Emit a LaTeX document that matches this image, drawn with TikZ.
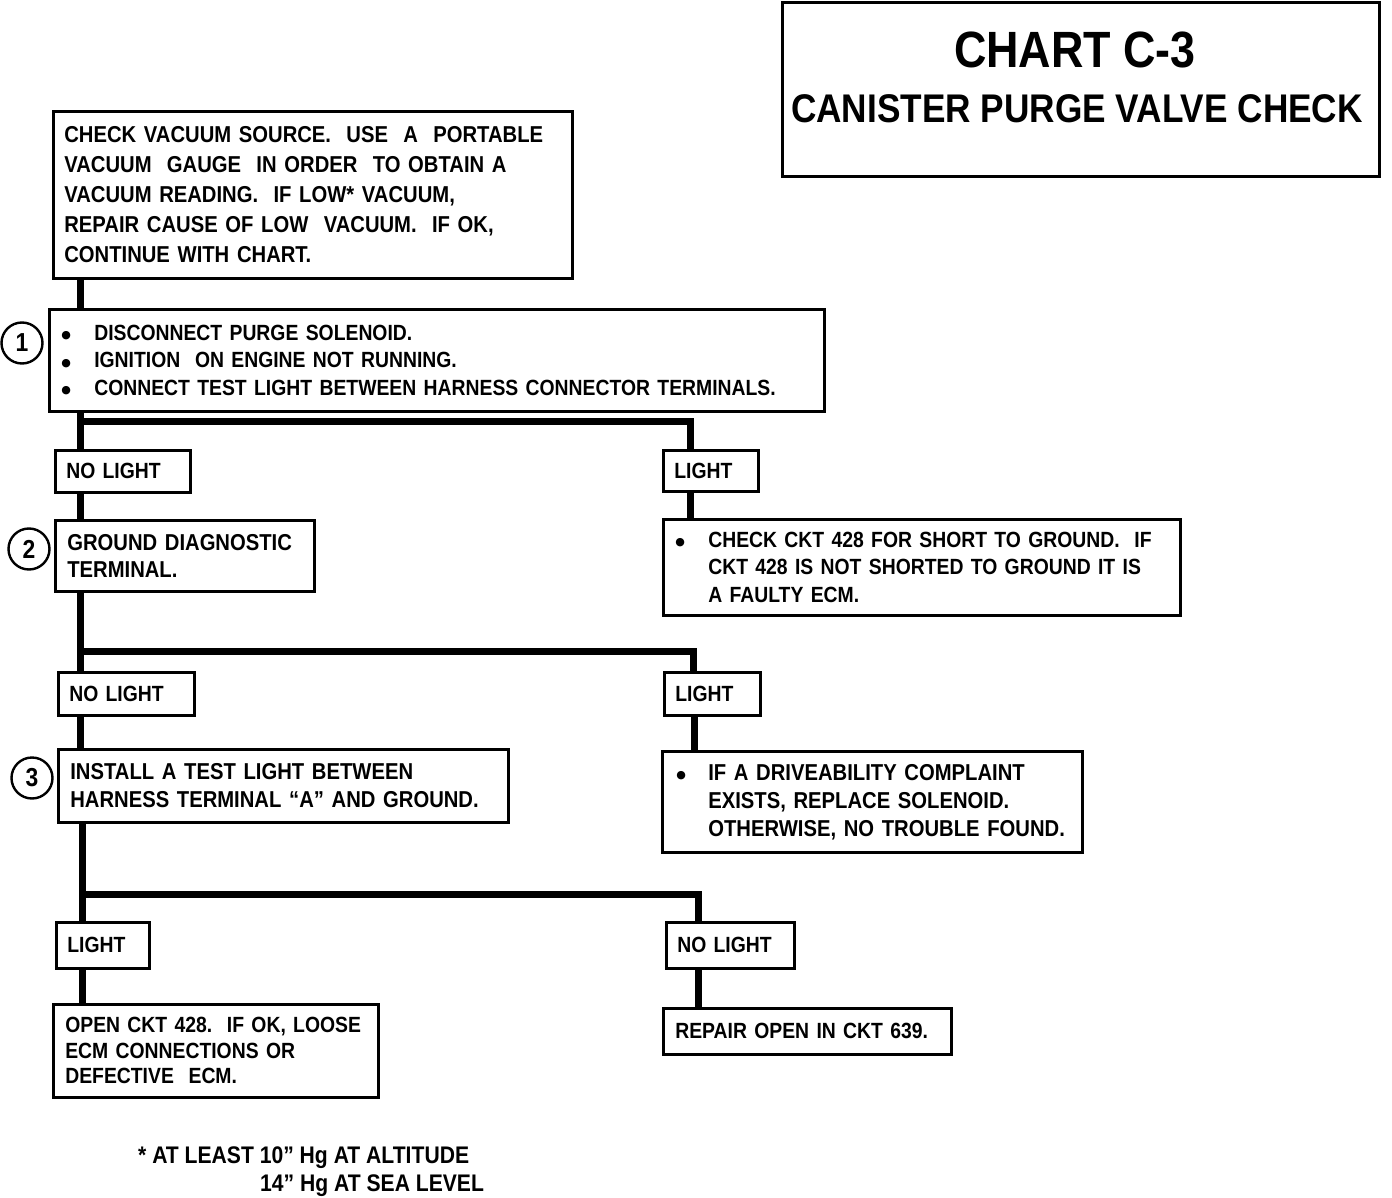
\documentclass[tikz,border=0pt]{standalone}
\usepackage{fontspec}
\setmainfont{Liberation Sans}[FakeStretch=0.88]
\newfontfamily\dejavu{DejaVu Sans}
\begin{document}
\begin{tikzpicture}[x=1pt,y=-1pt,
  box/.style={draw, line width=2.6pt, anchor=north west, inner xsep=11pt, inner ysep=0pt, align=left,
    font=\bfseries\fontsize{22}{27.5}\selectfont},
  lbl/.style={draw, line width=2.6pt, anchor=north west, inner xsep=11pt, inner ysep=0pt, align=left,
    font=\bfseries\fontsize{22}{24}\selectfont},
  conn/.style={line width=7pt},
  num/.style={draw, circle, line width=2.4pt, minimum size=41pt, inner sep=0pt, font=\bfseries\fontsize{26}{26}\selectfont}
]
\useasboundingbox (0,0) rectangle (1392,1198);
\newcommand{\bulmark}{\raisebox{1.5pt}{\dejavu\fontsize{11}{11}\selectfont ●}}
\newcommand{\bul}{\makebox[33pt][l]{\bulmark}}

% title
\node[draw, line width=2.6pt, anchor=north west, minimum width=597pt, minimum height=174pt, inner sep=0pt] (title) at (781,1) {};
\node[font=\bfseries\fontsize{51}{51}\selectfont] (t1) at (1075,50) {CHART C-3};
\node[font=\bfseries\fontsize{40}{40}\selectfont] (t2) at (1077,109) {CANISTER PURGE VALVE CHECK};

% box A
\node[box, font=\bfseries\fontsize{23}{30}\selectfont, text width=497pt, minimum height=167pt] (A) at (52,110)
 {CHECK VACUUM SOURCE.\ \ USE\ \ A\ \ PORTABLE\\
  VACUUM\ \ GAUGE\ \ IN ORDER\ \ TO OBTAIN A\\
  VACUUM READING.\ \ IF LOW* VACUUM,\\
  REPAIR CAUSE OF LOW\ \ VACUUM.\ \ IF OK,\\
  CONTINUE WITH CHART.};

% box 1
\node[box, inner xsep=12pt, text width=751pt, minimum height=102pt] (B1) at (48,308)
 {\bul DISCONNECT PURGE SOLENOID.\\
  \bul IGNITION\ \ ON ENGINE NOT RUNNING.\\
  \bul CONNECT TEST LIGHT BETWEEN HARNESS CONNECTOR TERMINALS.};
\node[num] (n1) at (22,343) {1};

% level 1 labels
\node[lbl, text width=113pt, minimum height=42pt] (NL1) at (54,449) {NO LIGHT};
\node[lbl, text width=73pt, minimum height=41pt] (L1) at (662,449) {LIGHT};

% box 2
\node[box, inner xsep=12pt, text width=235pt, minimum height=71pt, font=\bfseries\fontsize{23}{27}\selectfont] (B2) at (54,519)
 {GROUND DIAGNOSTIC\\ TERMINAL.};
\node[num] (n2) at (29,549) {2};

% right box 1
\node[box, inner xsep=12pt, text width=493pt, minimum height=96pt] (R1) at (662,518)
 {\bul CHECK CKT 428 FOR SHORT TO GROUND.\ \ IF\\
  \hspace*{33pt}CKT 428 IS NOT SHORTED TO GROUND IT IS\\
  \hspace*{33pt}A FAULTY ECM.};

% level 2 labels
\node[lbl, text width=114pt, minimum height=43pt] (NL2) at (57,671) {NO LIGHT};
\node[lbl, text width=74pt, minimum height=43pt] (L2) at (663,671) {LIGHT};

% box 3
\node[box, inner xsep=12pt, text width=426pt, minimum height=73pt, font=\bfseries\fontsize{23}{28}\selectfont] (B3) at (57,748)
 {INSTALL A TEST LIGHT BETWEEN\\ HARNESS TERMINAL ``A'' AND GROUND.};
\node[num] (n3) at (32,778) {3};

% right box 2
\node[box, inner xsep=14pt, text width=392pt, minimum height=101pt, font=\bfseries\fontsize{23}{28}\selectfont] (R2) at (661,750)
 {\makebox[32pt][l]{\bulmark}IF A DRIVEABILITY COMPLAINT\\
  \hspace*{32pt}EXISTS, REPLACE SOLENOID.\\
  \hspace*{32pt}OTHERWISE, NO TROUBLE FOUND.};

% level 3 labels
\node[lbl, text width=71pt, minimum height=46pt] (L3) at (55,921) {LIGHT};
\node[lbl, text width=106pt, minimum height=46pt] (NL3) at (665,921) {NO LIGHT};

% bottom boxes
\node[box, inner xsep=12pt, text width=301pt, minimum height=93pt, font=\bfseries\fontsize{22}{25.5}\selectfont] (LL) at (52,1003)
 {OPEN CKT 428.\ \ IF OK, LOOSE\\ ECM CONNECTIONS OR\\ DEFECTIVE\ \ ECM.};
\node[box, inner xsep=12pt, text width=264pt, minimum height=46pt] (LR) at (662,1007)
 {REPAIR OPEN IN CKT 639.};

% footnote
\node[anchor=west, font=\bfseries\fontsize{24}{24}\selectfont, inner sep=0pt] (f1) at (138,1158) {* AT LEAST 10'' Hg AT ALTITUDE};
\node[anchor=west, font=\bfseries\fontsize{24}{24}\selectfont, inner sep=0pt] (f2) at (260,1186) {14'' Hg AT SEA LEVEL};

% connectors
\coordinate (j1) at (80,421);
\coordinate (j2) at (80,651);
\coordinate (j3) at (82,894);
\draw[conn] (A.south -| j1) -- (B1.north -| j1);
\draw[conn] (B1.south -| j1) -- (NL1.north -| j1);
\draw[conn] (j1) -| (L1.north -| 690,0);
\draw[conn] (NL1.south -| j1) -- (B2.north -| j1);
\draw[conn] (L1.south -| 690,0) -- (R1.north -| 690,0);
\draw[conn] (B2.south -| j2) -- (NL2.north -| j2);
\draw[conn] (j2) -| (L2.north -| 693,0);
\draw[conn] (NL2.south -| j2) -- (B3.north -| j2);
\draw[conn] (L2.south -| 694,0) -- (R2.north -| 694,0);
\draw[conn] (B3.south -| j3) -- (L3.north -| j3);
\draw[conn] (j3) -| (NL3.north -| 698,0);
\draw[conn] (L3.south -| j3) -- (LL.north -| j3);
\draw[conn] (NL3.south -| 698,0) -- (LR.north -| 698,0);
\end{tikzpicture}
\end{document}
